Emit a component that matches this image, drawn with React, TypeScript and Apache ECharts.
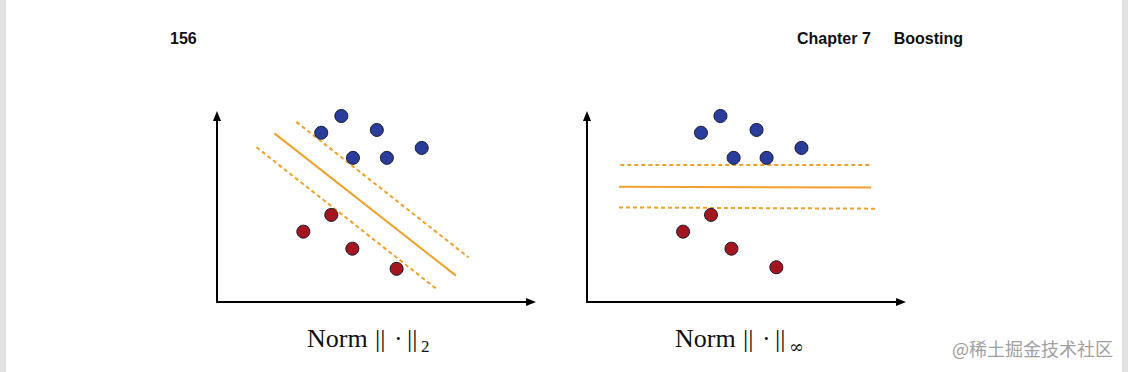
import React, { useEffect, useRef } from "react";
import * as echarts from "echarts";

// Panel A (L2 norm) points, in axis units (x: 0-100, y: 0-60)
const blueL2: [number, number][] = [
  [39.6, 60.0], [33.2, 54.6], [50.9, 55.5], [43.3, 46.5], [54.1, 46.5], [65.2, 49.7],
];
const redL2: [number, number][] = [
  [36.4, 28.1], [27.5, 22.7], [43.1, 17.2], [57.2, 10.7],
];
const solidL2: [number, number][] = [[18.3, 54.4], [76.1, 8.5]];
const upperL2: [number, number][] = [[25.3, 58.1], [80.1, 14.4]];
const lowerL2: [number, number][] = [[12.6, 49.9], [70.3, 3.9]];

// Panel B (L-infinity norm)
const blueInf: [number, number][] = [
  [42.5, 60.0], [36.3, 54.6], [54.0, 55.5], [46.7, 46.5], [57.2, 46.5], [68.3, 49.7],
];
const redInf: [number, number][] = [
  [39.5, 28.1], [30.6, 22.7], [46.0, 17.2], [60.3, 11.2],
];
const solidInf: [number, number][] = [[10.2, 37.2], [90.5, 36.9]];
const upperInf: [number, number][] = [[10.6, 44.2], [90.5, 44.2]];
const lowerInf: [number, number][] = [[10.2, 30.5], [92.7, 30.1]];

const pageNumber = "156";
const chapterLabel = "Chapter 7";
const chapterTitle = "Boosting";
const captionWord = "Norm";
const captionBars = "||";
const captionDot = "·";
const captionSubL2 = "2";
const captionSubInf = "∞";
const watermark = "@稀土掘金技术社区";

const BLUE = "#2b3d9c";
const RED = "#a3161f";
const ORANGE = "#f0a02c";

const SERIF = "'Liberation Serif', 'DejaVu Serif', serif";

function caption(x0: number, sub: string, subFont: string) {
  const y = 338;
  const t = (text: string, dx: number, font: string, dy = 0) => ({
    type: "text" as const,
    x: x0 + dx,
    y: y + dy,
    style: { text, font, fill: "#111", verticalAlign: "middle" as const, align: "left" as const },
  });
  return [
    t(captionWord, 0, `26px ${SERIF}`),
    t(captionBars, 68, `26px ${SERIF}`),
    t(captionDot, 87, `26px ${SERIF}`),
    t(captionBars, 100, `26px ${SERIF}`),
    t(sub, 114, subFont, 8),
  ];
}

export default function App() {
  const ref = useRef<HTMLDivElement>(null);
  useEffect(() => {
    document.body.style.margin = "0";
    const chart = echarts.init(ref.current!, undefined, { renderer: "svg" });

    const axisCommon = {
      type: "value" as const,
      axisTick: { show: false },
      axisLabel: { show: false },
      splitLine: { show: false },
      axisLine: {
        show: true,
        onZero: false,
        symbol: ["none", "triangle"],
        symbolSize: [8, 10],
        lineStyle: { color: "#000", width: 2 },
      },
    };

    const pointSeries = (data: [number, number][], color: string, idx: number) => ({
      type: "scatter" as const,
      xAxisIndex: idx,
      yAxisIndex: idx,
      data,
      symbolSize: 13,
      clip: false,
      z: 5,
      itemStyle: { color, opacity: 1, borderColor: "#1a1a2a", borderWidth: 1 },
    });
    const lineSeries = (data: [number, number][], dashed: boolean, idx: number) => ({
      type: "line" as const,
      xAxisIndex: idx,
      yAxisIndex: idx,
      data,
      symbol: "none",
      clip: false,
      z: 3,
      lineStyle: {
        color: ORANGE,
        width: 2,
        type: dashed ? [4, 3] : "solid",
      },
    });

    chart.setOption({
      animation: false,
      backgroundColor: "#fff",
      grid: [
        { left: 217, top: 116, width: 314, height: 186 },
        { left: 587, top: 116, width: 314, height: 186 },
      ],
      xAxis: [
        { ...axisCommon, gridIndex: 0, min: 0, max: 100 },
        { ...axisCommon, gridIndex: 1, min: 0, max: 100 },
      ],
      yAxis: [
        { ...axisCommon, gridIndex: 0, min: 0, max: 60 },
        { ...axisCommon, gridIndex: 1, min: 0, max: 60 },
      ],
      series: [
        lineSeries(solidL2, false, 0),
        lineSeries(upperL2, true, 0),
        lineSeries(lowerL2, true, 0),
        pointSeries(blueL2, BLUE, 0),
        pointSeries(redL2, RED, 0),
        lineSeries(solidInf, false, 1),
        lineSeries(upperInf, true, 1),
        lineSeries(lowerInf, true, 1),
        pointSeries(blueInf, BLUE, 1),
        pointSeries(redInf, RED, 1),
      ],
      graphic: [
        { type: "rect", shape: { x: 0, y: 0, width: 6, height: 372 }, style: { fill: "#e2e2e2" }, silent: true },
        { type: "rect", shape: { x: 1122, y: 0, width: 6, height: 372 }, style: { fill: "#e2e2e2" }, silent: true },
        {
          type: "text", x: 170, y: 38,
          style: { text: pageNumber, font: "bold 16px 'Liberation Sans', Arial, sans-serif", fill: "#111", verticalAlign: "middle", align: "left" },
        },
        {
          type: "text", x: 797, y: 38,
          style: { text: chapterLabel, font: "bold 16px 'Liberation Sans', Arial, sans-serif", fill: "#111", verticalAlign: "middle", align: "left" },
        },
        {
          type: "text", x: 963, y: 38,
          style: { text: chapterTitle, font: "bold 16px 'Liberation Sans', Arial, sans-serif", fill: "#111", verticalAlign: "middle", align: "right" },
        },
        ...caption(307, captionSubL2, `17px ${SERIF}`),
        ...caption(675, captionSubInf, "18px 'DejaVu Serif', serif"),
        {
          type: "text", x: 1113, y: 348,
          style: { text: watermark, font: "18px 'Noto Sans CJK SC', sans-serif", fill: "#a0a0a0", verticalAlign: "middle", align: "right" },
        },
      ],
    });
    return () => chart.dispose();
  }, []);
  return <div ref={ref} style={{ width: 1128, height: 372 }} />;
}
